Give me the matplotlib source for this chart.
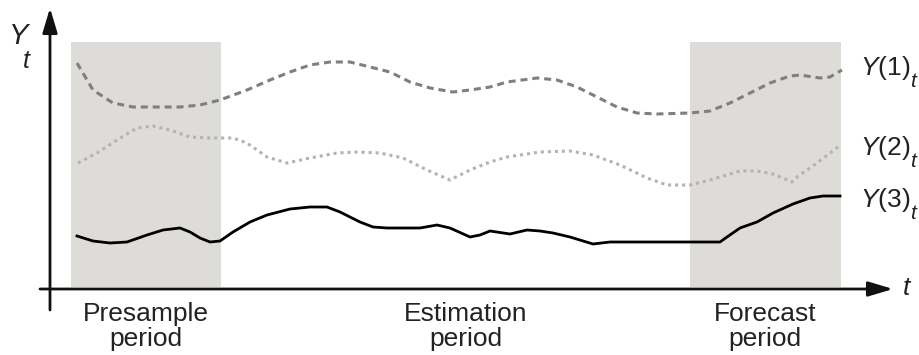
import matplotlib
matplotlib.use("Agg")
import matplotlib.pyplot as plt

plt.rcParams['font.family'] = ['Liberation Sans', 'DejaVu Sans']
plt.rcParams['mathtext.fontset'] = 'custom'
plt.rcParams['mathtext.rm'] = 'Liberation Sans'
plt.rcParams['mathtext.it'] = 'Liberation Sans:italic'

# ---- data (t along time axis, Y level above the t axis) ----
t1 = [27, 43, 63, 83, 107, 130, 150, 170, 197, 220, 240, 260, 280, 300, 320, 340, 360, 380,
      403, 420, 440, 457, 487, 507, 527, 547, 567, 587, 607, 640, 660, 680, 700, 720, 740,
      750, 770, 780, 792]
y1 = [226, 199, 186, 182, 182, 182, 184, 189, 199, 209, 217, 224, 227, 227, 222, 217, 207, 201,
      197, 199, 202, 207, 211, 209, 202, 192, 182, 176, 175, 176, 178, 186, 196, 206, 213,
      214, 211, 212, 219]

t2 = [28, 47, 67, 87, 103, 120, 140, 160, 183, 197, 217, 237, 260, 287, 307, 330, 353, 377,
      400, 420, 440, 457, 490, 520, 543, 570, 597, 617, 640, 660, 690, 707, 723, 742, 747,
      767, 788]
y2 = [126, 136, 149, 161, 163, 159, 152, 151, 151, 146, 132, 126, 131, 136, 137, 136, 131, 119,
      109, 119, 127, 132, 137, 138, 134, 124, 111, 104, 104, 109, 118, 118, 115, 107, 112,
      126, 142]

t3 = [27, 43, 60, 77, 97, 113, 130, 140, 150, 160, 170, 183, 200, 217, 240, 260, 277, 290,
      310, 323, 337, 370, 387, 400, 420, 430, 440, 460, 477, 490, 503, 520, 543, 560, 580,
      670, 677, 690, 707, 723, 743, 760, 773, 790]
y3 = [53, 48, 46, 47, 54, 59, 61, 57, 51, 47, 48, 57, 67, 74, 80, 82, 82, 77,
      67, 62, 61, 61, 64, 61, 52, 54, 58, 55, 59, 58, 56, 52, 45, 47, 47,
      47, 52, 61, 67, 76, 85, 91, 93, 93]

presample = (21, 171)
forecast = (640, 791)
shade_top = 247

series_names = [r'$Y(1)$', r'$Y(2)$', r'$Y(3)$']
period_labels = ['Presample\nperiod', 'Estimation\nperiod', 'Forecast\nperiod']
period_centers = [96, 416, 715]

# ---- figure ----
fig = plt.figure(figsize=(9.2, 3.55), dpi=100)
ax = fig.add_axes([0, 0, 1, 1])
ax.set_xlim(-50, 870)
ax.set_ylim(-66, 289)
ax.axis('off')

shade = '#dddcd9'
for lo, hi in (presample, forecast):
    ax.fill_between([lo, hi], 2, shade_top, color=shade, lw=0, zorder=0)

ax.plot(t1, y1, color='#7f7f7f', lw=2.2, dashes=(2.3, 1.6), solid_capstyle='butt', zorder=2)
ax.plot(t2, y2, color='#b3b3b3', lw=2.2, dashes=(1.0, 1.3), zorder=2)
ax.plot(t3, y3, color='#000000', lw=2.0, zorder=3)

# axes with arrows
arrow = dict(arrowstyle='-|>,head_length=1.5,head_width=0.45', lw=2.0, color='#111111',
             shrinkA=0, shrinkB=0, mutation_scale=10)
ax.annotate('', xy=(843, 0), xytext=(-10, 0), arrowprops=arrow, zorder=4)
ax.annotate('', xy=(0, 281), xytext=(0, -21), arrowprops=arrow, zorder=4)

txt = '#222222'
ax.text(-41, 245, 'Y', fontsize=21, style='italic', color=txt, va='baseline', ha='left')
ax.text(-27, 221, 't', fontsize=18, style='italic', color=txt, va='baseline', ha='left')
ax.text(853, -6, 't', fontsize=19, style='italic', color=txt, va='baseline', ha='left')

for lab, yv in zip(series_names, [214, 134, 82]):
    ax.text(810, yv, lab, fontsize=19, color=txt, va='baseline', ha='left')
    ax.text(860, yv - 12, 't', fontsize=15, style='italic', color=txt,
            va='baseline', ha='left')

for lab, xc in zip(period_labels, period_centers):
    ax.text(xc, -13, lab, fontsize=19, color=txt, ha='center', va='top', linespacing=1.05)

fig.savefig('out.png', dpi=100)
